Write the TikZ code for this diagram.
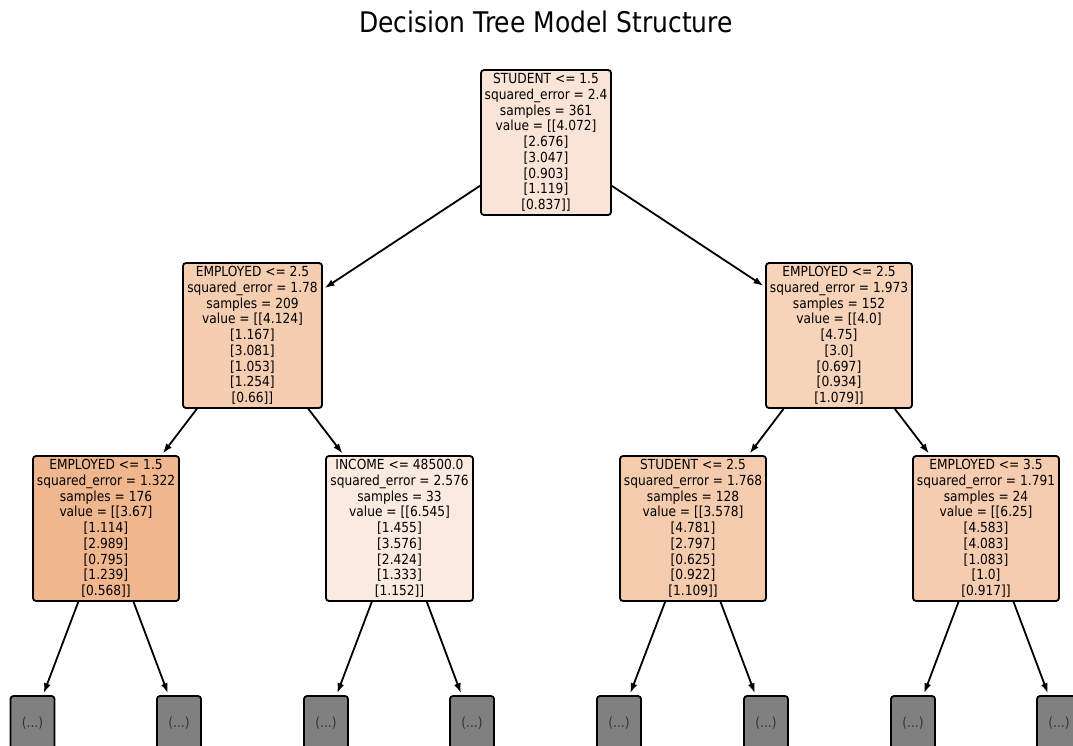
\documentclass[tikz,border=0pt]{standalone}
\usepackage{fontspec}
\setmainfont[FakeStretch=0.88]{DejaVu Sans}
\usetikzlibrary{arrows.meta}
\definecolor{rootfill}{HTML}{F9E4D7}
\definecolor{leftfill}{HTML}{F5CDB0}
\definecolor{rightfill}{HTML}{F6D3B9}
\definecolor{darkfill}{HTML}{F0B78E}
\definecolor{paleFill}{HTML}{FBEAE0}
\definecolor{midfill}{HTML}{F5CBAD}
\definecolor{midfillb}{HTML}{F5CCAF}
\definecolor{leafgray}{HTML}{808080}
\definecolor{leaftext}{HTML}{333333}
\tikzset{
  split/.style={draw, line width=1.8pt, rounded corners=3pt, align=center,
    minimum height=145pt, inner sep=0pt,
    font=\fontsize{13.9}{15.75}\selectfont},
  leaf/.style={draw, line width=1.8pt, rounded corners=3pt, fill=leafgray,
    minimum width=44pt, minimum height=54pt, inner sep=0pt, text=leaftext,
    font=\fontsize{13.9}{15}\selectfont},
  edge/.style={->, >={Latex[length=10pt,width=7pt]}, line width=1.8pt, shorten >=2pt}
}
\begin{document}
\begin{tikzpicture}[x=1pt, y=-1pt]
\clip (0,0) rectangle (1073,746);
\fill[white] (0,0) rectangle (1073,746);
\node (title) at (546,22) {\fontsize{28.4}{32}\selectfont Decision Tree Model Structure};
% splits
\node[split, fill=rootfill, minimum width=130pt] (root) at (546,142.5)
  {STUDENT <= 1.5\\squared\_error = 2.4\\samples = 361\\value = [[4.072]\\{}[2.676]\\{}[3.047]\\{}[0.903]\\{}[1.119]\\{}[0.837]]};
\node[split, fill=leftfill, minimum width=139pt] (empA) at (252.5,335.5)
  {EMPLOYED <= 2.5\\squared\_error = 1.78\\samples = 209\\value = [[4.124]\\{}[1.167]\\{}[3.081]\\{}[1.053]\\{}[1.254]\\{}[0.66]]};
\node[split, fill=rightfill, minimum width=146pt] (empB) at (839,335.5)
  {EMPLOYED <= 2.5\\squared\_error = 1.973\\samples = 152\\value = [[4.0]\\{}[4.75]\\{}[3.0]\\{}[0.697]\\{}[0.934]\\{}[1.079]]};
\node[split, fill=darkfill, minimum width=146pt] (empC) at (106,528.5)
  {EMPLOYED <= 1.5\\squared\_error = 1.322\\samples = 176\\value = [[3.67]\\{}[1.114]\\{}[2.989]\\{}[0.795]\\{}[1.239]\\{}[0.568]]};
\node[split, fill=paleFill, minimum width=147pt] (inc) at (399.5,528.5)
  {INCOME <= 48500.0\\squared\_error = 2.576\\samples = 33\\value = [[6.545]\\{}[1.455]\\{}[3.576]\\{}[2.424]\\{}[1.333]\\{}[1.152]]};
\node[split, fill=midfill, minimum width=146pt] (stu) at (693,528.5)
  {STUDENT <= 2.5\\squared\_error = 1.768\\samples = 128\\value = [[3.578]\\{}[4.781]\\{}[2.797]\\{}[0.625]\\{}[0.922]\\{}[1.109]]};
\node[split, fill=midfillb, minimum width=146pt] (empD) at (986,528.5)
  {EMPLOYED <= 3.5\\squared\_error = 1.791\\samples = 24\\value = [[6.25]\\{}[4.583]\\{}[4.083]\\{}[1.083]\\{}[1.0]\\{}[0.917]]};
% leaves
\foreach \i/\x in {1/32.5, 2/179, 3/326, 4/472, 5/619, 6/766, 7/913, 8/1059}
  \node[leaf] (leaf\i) at (\x,723) {(...)};
% edges
\draw[edge] (root) -- (empA);
\draw[edge] (root) -- (empB);
\draw[edge] (empA) -- (empC);
\draw[edge] (empA) -- (inc);
\draw[edge] (empB) -- (stu);
\draw[edge] (empB) -- (empD);
\foreach \p/\a/\b in {empC/1/2, inc/3/4, stu/5/6, empD/7/8} {
  \draw[edge] (\p) -- (leaf\a);
  \draw[edge] (\p) -- (leaf\b);
}
\end{tikzpicture}
\end{document}
